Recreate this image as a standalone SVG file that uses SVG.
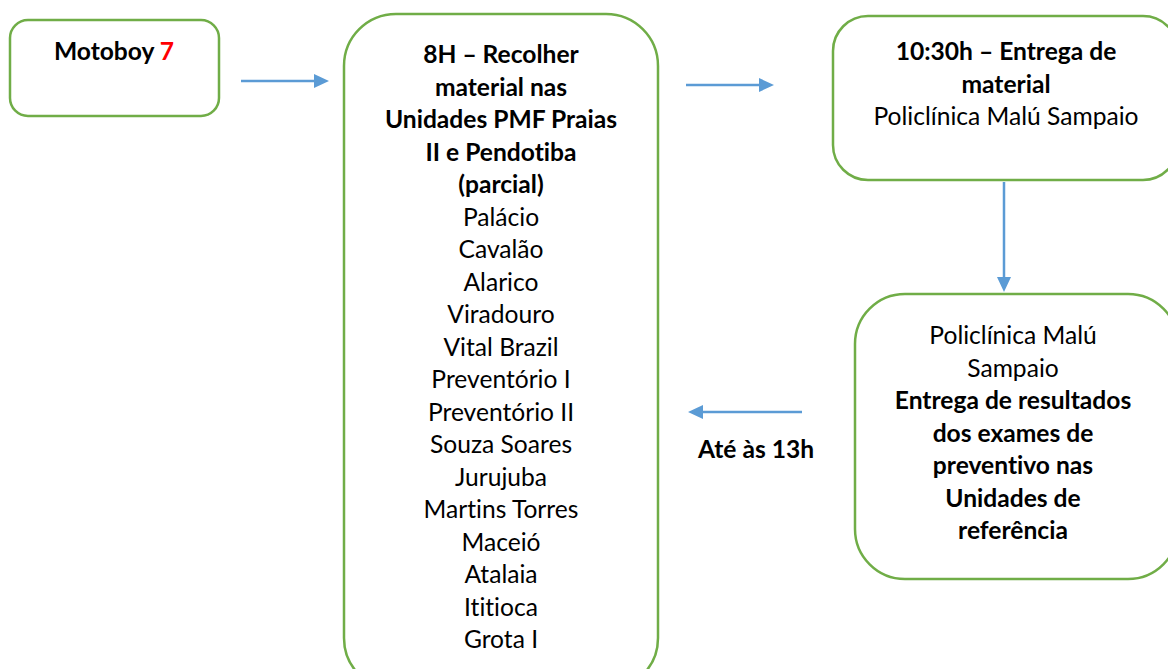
<svg xmlns="http://www.w3.org/2000/svg" width="1168" height="669" viewBox="0 0 1168 669">
<defs>
<style>
.box{fill:#fff;stroke:#70AD47;stroke-width:2.5}
.t{font-family:Lato,"Open Sans","Liberation Sans",sans-serif;font-size:24.6px;fill:#000;text-anchor:middle;font-variant-ligatures:none;font-feature-settings:"liga" 0,"dlig" 0}
.b{font-weight:bold}
.con{stroke:#5B9BD5;stroke-width:2.5;fill:none}
</style>
</defs>
<rect width="1168" height="669" fill="#fff"/>
<g id="connectors">
<line class="con" x1="241" y1="81" x2="315" y2="81"/>
<path d="M314,74 L329,81 L314,88 z" fill="#5B9BD5"/>
<line class="con" x1="686" y1="85" x2="760" y2="85"/>
<path d="M759,78 L774,85 L759,92 z" fill="#5B9BD5"/>
<line class="con" x1="1004" y1="182" x2="1004" y2="278"/>
<path d="M997,277 L1004,292 L1011,277 z" fill="#5B9BD5"/>
<line class="con" x1="802" y1="412" x2="702" y2="412"/>
<path d="M703,405 L688,412 L703,419 z" fill="#5B9BD5"/>
<text class="t b" x="756" y="458">Até às 13h</text>
</g>
<g id="node-motoboy">
<rect class="box" x="10" y="20" width="209" height="96" rx="18"/>
<text class="t b" x="114" y="60">Motoboy <tspan fill="#FF0000">7</tspan></text>
</g>
<g id="node-recolher">
<rect class="box" x="344" y="14" width="314" height="676" rx="52"/>
<text class="t b" x="501" y="63">8H – Recolher</text>
<text class="t b" x="501" y="95.5">material nas</text>
<text class="t b" x="501" y="128">Unidades PMF Praias</text>
<text class="t b" x="501" y="160.5">II e Pendotiba</text>
<text class="t b" x="501" y="193">(parcial)</text>
<text class="t" x="501" y="225.5">Palácio</text>
<text class="t" x="501" y="258">Cavalão</text>
<text class="t" x="501" y="290.5">Alarico</text>
<text class="t" x="501" y="323">Viradouro</text>
<text class="t" x="501" y="355.5">Vital Brazil</text>
<text class="t" x="501" y="388">Preventório I</text>
<text class="t" x="501" y="420.5">Preventório II</text>
<text class="t" x="501" y="453">Souza Soares</text>
<text class="t" x="501" y="485.5">Jurujuba</text>
<text class="t" x="501" y="518">Martins Torres</text>
<text class="t" x="501" y="550.5">Maceió</text>
<text class="t" x="501" y="583">Atalaia</text>
<text class="t" x="501" y="615.5">Ititioca</text>
<text class="t" x="501" y="648">Grota I</text>
</g>
<g id="node-entrega">
<rect class="box" x="833" y="16" width="345" height="164" rx="35"/>
<text class="t b" x="1006" y="60">10:30h – Entrega de</text>
<text class="t b" x="1006" y="92.5">material</text>
<text class="t" x="1006" y="125">Policlínica Malú Sampaio</text>
</g>
<g id="node-resultados">
<rect class="box" x="855" y="294" width="323" height="285" rx="50"/>
<text class="t" x="1013" y="344">Policlínica Malú</text>
<text class="t" x="1013" y="376.5">Sampaio</text>
<text class="t b" x="1013" y="409">Entrega de resultados</text>
<text class="t b" x="1013" y="441.5">dos exames de</text>
<text class="t b" x="1013" y="474">preventivo nas</text>
<text class="t b" x="1013" y="506.5">Unidades de</text>
<text class="t b" x="1013" y="539">referência</text>
</g>
</svg>
